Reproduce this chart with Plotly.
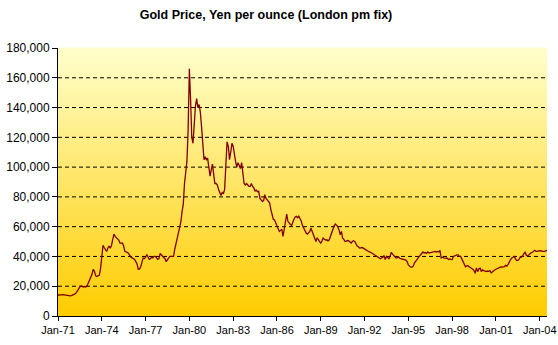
import pandas as pd
import plotly.graph_objects as go

# Monthly London pm fix gold price converted to yen per ounce, Jan 1971 onward
prices_1970s = [
    14100, 14000, 14300, 14200, 14300, 14100, 14200, 14000, 13800, 13600, 13500, 13700,  # 1971
    13900, 14200, 14800, 15500, 17000, 18500, 19500, 20200, 19800, 19500, 19800, 19500,  # 1972
    20500, 22500, 24000, 25500, 28000, 31400, 30000, 27000, 26500, 27000, 27500, 32000,  # 1973
    41500, 47500, 46000, 44500, 43300, 45500, 47000, 45500, 47500, 51500, 55000, 53500,  # 1974
    52500, 52000, 51000, 49000, 49000, 49000, 47000, 43300, 43000, 42800, 42000, 40500,  # 1975
    39500, 39000, 38500, 38000, 36500, 35000, 31400, 31500, 33000, 37000, 39000, 38500,  # 1976
    39500, 41300, 40000, 38000, 38500, 39500, 39000, 40000, 40000, 38500, 38000, 38500,  # 1977
    42000, 41000, 40000, 39500, 38500, 36500, 38000, 39000, 40000, 40000, 39500, 40000,  # 1978
    45000, 49000, 52000, 54500, 59000, 63000, 70000, 75000, 89000, 98000, 104000, 125000,  # 1979
]
prices_1980s = [
    166000, 145000, 120000, 116000, 133000, 141000, 146000, 140000, 142000, 137000, 127000, 112000,  # 1980
    105000, 107000, 105000, 106000, 100000, 94000, 98000, 102000, 95000, 89000, 89000, 88000,  # 1981
    85000, 82000, 81000, 83000, 82000, 85000, 100000, 117000, 114000, 105000, 110000, 116000,  # 1982
    114000, 107000, 104000, 100000, 103000, 101000, 99000, 103000, 97000, 89000, 88000, 89000,  # 1983
    88000, 87000, 87000, 89000, 87000, 86000, 84000, 84500, 83500, 83700, 79000, 78000,  # 1984
    77000, 77500, 81500, 79000, 78000, 77000, 76000, 71500, 67000, 65000, 64500, 62300,  # 1985
    61000, 59000, 56800, 57500, 58300, 53400, 59000, 63000, 68500, 63600, 62000, 61500,  # 1986
    60700, 63700, 65000, 66500, 67000, 66000, 67000, 65500, 63700, 60700, 59000, 57000,  # 1987
    55700, 55000, 56000, 56800, 59000, 56800, 54000, 52500, 50000, 52300, 51500, 50000,  # 1988
    49000, 50500, 52300, 51500, 51000, 51200, 50500, 51200, 53500, 55700, 59000, 60500,  # 1989
]
prices_1990s = [
    61700, 61000, 60000, 58000, 54600, 56800, 52300, 51500, 50000, 50300, 50700, 50500,  # 1990
    50000, 49000, 50000, 50500, 50000, 47900, 47000, 46500, 45600, 45800, 46000, 45600,  # 1991
    45000, 44500, 44000, 43400, 43000, 42800, 42300, 42000, 41500, 40600, 40200, 39700,  # 1992
    39500, 38500, 39000, 39500, 40600, 37900, 40000, 39500, 38500, 40000, 42800, 41500,  # 1993
    40600, 39700, 39000, 39200, 39700, 38700, 38500, 38600, 38300, 37800, 37500, 36600,  # 1994
    34300, 33500, 32800, 32800, 33300, 35500, 36800, 37900, 39000, 40000, 41000, 42000,  # 1995
    43000, 42300, 42600, 42000, 43000, 42300, 42500, 43000, 42800, 43000, 43400, 43000,  # 1996
    43400, 43000, 44100, 39000, 39500, 39000, 39000, 39300, 38800, 37900, 38300, 38000,  # 1997
    37900, 40000, 40400, 40800, 41000, 41000, 40000, 40000, 37900, 36800, 34500, 33000,  # 1998
    33600, 33800, 33000, 32500, 32100, 31400, 30500, 28700, 32300, 29800, 31800, 32100,  # 1999
]
prices_2000s = [
    29800, 31000, 30500, 30200, 29800, 30200, 30000, 30500, 29000, 29600, 30000, 30900,  # 2000
    31400, 31800, 32500, 32600, 33000, 32800, 33000, 33200, 34000, 33500, 34700, 36800,  # 2001
    37900, 39000, 39700, 40000, 38500, 37300, 37300, 38000, 39700, 39500, 40500, 41500,  # 2002
    43000, 40600, 40400, 41000, 42000, 42500, 42800, 43400, 44100, 43400, 43500, 44000,  # 2003
    44100, 43800, 43400, 43200, 43400, 43800, 44100,  # 2004
]

tick_years = list(range(1971, 2005, 3))
tick_labels = ["Jan-71", "Jan-74", "Jan-77", "Jan-80", "Jan-83", "Jan-86",
               "Jan-89", "Jan-92", "Jan-95", "Jan-98", "Jan-01", "Jan-04"]
y_ticks = list(range(0, 180001, 20000))

prices = prices_1970s + prices_1980s + prices_1990s + prices_2000s
months = pd.date_range("1971-01-01", periods=len(prices), freq="MS")

fig = go.Figure()
fig.add_trace(go.Scatter(
    x=months, y=prices, mode="lines",
    line=dict(color="#800000", width=1.3),
    hoverinfo="skip", showlegend=False,
))

# Vertical two-colour gradient behind the plot area, built from thin bands
top_rgb = (255, 255, 204)
bottom_rgb = (255, 204, 0)
n_bands = 134
shapes = []
for i in range(n_bands):
    f = (i + 0.5) / n_bands  # 0 at bottom, 1 at top
    r = round(bottom_rgb[0] + (top_rgb[0] - bottom_rgb[0]) * f)
    g = round(bottom_rgb[1] + (top_rgb[1] - bottom_rgb[1]) * f)
    b = round(bottom_rgb[2] + (top_rgb[2] - bottom_rgb[2]) * f)
    shapes.append(dict(
        type="rect", xref="x domain", yref="y domain",
        x0=0, x1=1, y0=i / n_bands, y1=(i + 1) / n_bands + 0.002,
        fillcolor=f"rgb({r},{g},{b})", line=dict(width=0), layer="below",
    ))

# Dashed horizontal gridlines at the inner tick values (none at the top edge)
for v in y_ticks[1:-1]:
    shapes.append(dict(
        type="line", xref="x domain", yref="y",
        x0=0, x1=1, y0=v, y1=v,
        line=dict(color="black", width=1, dash="4px,3px"), layer="below",
    ))

fig.update_layout(
    width=558, height=345,
    margin=dict(l=58, r=11, t=48, b=29),
    paper_bgcolor="white", plot_bgcolor="white",
    shapes=shapes,
    title=dict(
        text="<b>Gold Price, Yen per ounce (London pm fix)</b>",
        x=266 / 558, xanchor="center", y=1 - 15 / 345, yanchor="middle",
        font=dict(family="Liberation Sans, Arial, sans-serif", size=12.5, color="black"),
    ),
    font=dict(family="Liberation Sans, Arial, sans-serif", color="black"),
)
fig.update_xaxes(
    type="date", automargin=False,
    range=[months[0], months[-1]],
    tickvals=[pd.Timestamp(f"{y}-01-01") for y in tick_years],
    ticktext=tick_labels,
    ticks="outside", ticklen=4, tickcolor="black", tickwidth=1,
    showline=True, linecolor="black", linewidth=1,
    showgrid=False, zeroline=False,
    tickfont=dict(size=11),
)
fig.update_yaxes(
    automargin=False,
    range=[0, 180000],
    tickvals=y_ticks, tickformat=",d",
    ticks="outside", ticklen=5, tickcolor="black", tickwidth=1,
    showline=True, linecolor="black", linewidth=1,
    showgrid=False, zeroline=False,
    tickfont=dict(size=12),
)

fig.write_html("out.html")
